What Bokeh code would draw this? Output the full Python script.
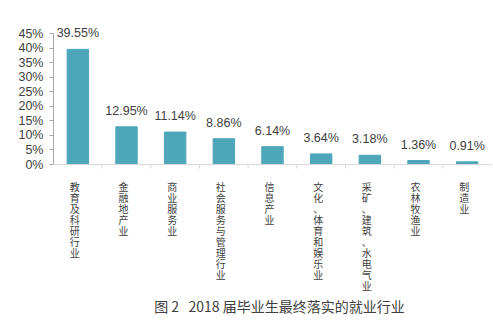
from bokeh.plotting import figure
from bokeh.models import ColumnDataSource, FixedTicker, Range1d, LabelSet, Label, Span
from bokeh.core.properties import value
from bokeh.embed import file_html
from bokeh.resources import INLINE

categories = ["教育及科研行业", "金融地产业", "商业服务业", "社会服务与管理行业", "信息产业",
              "文化、体育和娱乐业", "采矿、建筑、水电气业", "农林牧渔业", "制造业"]
values = [39.55, 12.95, 11.14, 8.86, 6.14, 3.64, 3.18, 1.36, 0.91]
y_ticks = [0, 5, 10, 15, 20, 25, 30, 35, 40, 45]
title_text = "图\u00a02\u00a0\u00a0\u00a02018\u00a0届毕业生最终落实的就业行业"

W, H = 493, 327
left, right = 53, 2
zero_px, top_px = 164, 33          # canvas rows of 0% and 45%
y_max = y_ticks[-1]
ppu = (zero_px - top_px) / y_max    # pixels per percent

n = len(categories)
xs = [i + 0.5 for i in range(n)]
src = ColumnDataSource(dict(x=xs, top=values, lab=[f"{v:.2f}%" for v in values]))
cat_src = ColumnDataSource(dict(x=xs, y=[0] * n, txt=["\n".join(c) for c in categories]))
bnd = list(range(1, n + 1))
tick_src = ColumnDataSource(dict(x=bnd, y0=[0] * n, y1=[-4 / ppu] * n))

p = figure(width=W, height=H, output_backend="svg", toolbar_location=None,
           x_range=Range1d(0, n), y_range=Range1d(-(H - zero_px) / ppu, zero_px / ppu),
           min_border_left=left, min_border_right=right, min_border_top=0, min_border_bottom=0)
p.outline_line_color = None
p.grid.grid_line_color = None
p.xaxis.visible = False

text_col = "#404040"
bar_color = "#4ea6ba"
p.vbar(x="x", top="top", width=0.44, bottom=0, source=src, color=bar_color)

labels = LabelSet(x="x", y="top", text="lab", source=src, text_align="center",
                  text_baseline="bottom", y_offset=9, text_font_size="12.5px",
                  text_color=text_col, text_font=value("Liberation Sans"))
p.add_layout(labels)

# x axis line and category boundary ticks
p.add_layout(Span(location=0, dimension="width", line_color="#d9d9d9", line_width=1))
p.segment(x0="x", x1="x", y0="y0", y1="y1", source=tick_src, line_color="#d9d9d9")

# vertical category labels
p.text(x="x", y="y", text="txt", source=cat_src, text_align="center", text_baseline="top",
       y_offset=14, x_offset=-3, text_font=value("Noto Sans CJK SC"), text_font_size="10px",
       text_line_height=0.74, text_color=text_col)

# y axis
ya = p.yaxis[0]
ya.bounds = (0, y_max)
ya.ticker = FixedTicker(ticks=y_ticks)
ya.major_label_overrides = {t: f"{t}%" for t in y_ticks}
ya.major_label_text_font = "Liberation Sans"
ya.major_label_text_font_size = "12.5px"
ya.major_label_text_color = text_col
ya.axis_line_color = "#a6a6a6"
ya.major_tick_line_color = "#a6a6a6"
ya.major_tick_out = 4
ya.major_tick_in = 0
ya.minor_tick_line_color = None
ya.major_label_standoff = 6

title = Label(x=279 - left, y=H - 305, x_units="screen", y_units="screen", text=title_text,
              text_align="center", text_baseline="middle", text_font_size="14px",
              text_color=text_col, text_font="Noto Sans CJK SC")
p.add_layout(title)

open("out.html", "w").write(file_html(p, INLINE))
